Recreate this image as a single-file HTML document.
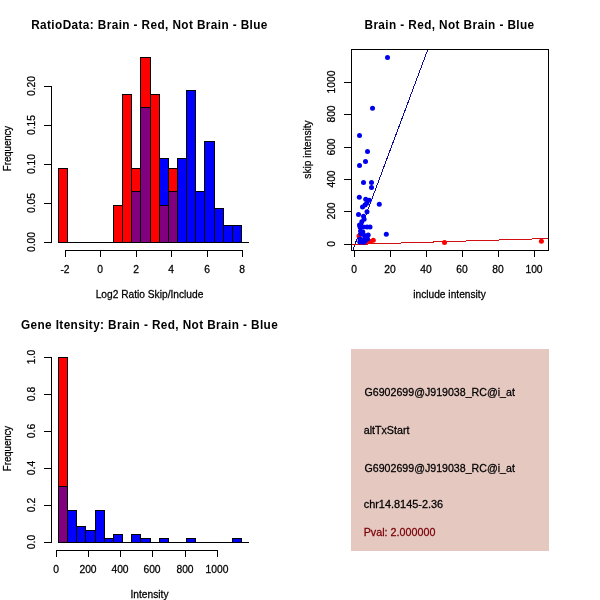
<!DOCTYPE html>
<html><head><meta charset="utf-8"><style>
html,body{margin:0;padding:0;background:#fff;width:600px;height:600px;overflow:hidden}
svg{display:block;will-change:transform}
text{font-family:"Liberation Sans", sans-serif}
</style></head><body>
<svg width="600" height="600" viewBox="0 0 600 600">
<rect x="0" y="0" width="600" height="600" fill="#fff"/>
<text x="0" y="0" transform="translate(149.5,28.5) scale(1.0,1.07)" font-size="11.8" text-anchor="middle" font-weight="bold" fill="#000" letter-spacing="0.4">RatioData: Brain - Red, Not Brain - Blue</text>
<rect x="51" y="86" width="1" height="157" fill="#000"/>
<rect x="44" y="86" width="8" height="1" fill="#000"/>
<rect x="44" y="125" width="8" height="1" fill="#000"/>
<rect x="44" y="164" width="8" height="1" fill="#000"/>
<rect x="44" y="203" width="8" height="1" fill="#000"/>
<rect x="44" y="242" width="8" height="1" fill="#000"/>
<text x="0" y="0" transform="translate(35,242) rotate(-90) scale(1.0,1.06)" font-size="10.3" text-anchor="middle" font-weight="normal" fill="#000" stroke="#000" stroke-width="0.25">0.00</text>
<text x="0" y="0" transform="translate(35,203) rotate(-90) scale(1.0,1.06)" font-size="10.3" text-anchor="middle" font-weight="normal" fill="#000" stroke="#000" stroke-width="0.25">0.05</text>
<text x="0" y="0" transform="translate(35,164) rotate(-90) scale(1.0,1.06)" font-size="10.3" text-anchor="middle" font-weight="normal" fill="#000" stroke="#000" stroke-width="0.25">0.10</text>
<text x="0" y="0" transform="translate(35,125) rotate(-90) scale(1.0,1.06)" font-size="10.3" text-anchor="middle" font-weight="normal" fill="#000" stroke="#000" stroke-width="0.25">0.15</text>
<text x="0" y="0" transform="translate(35,86) rotate(-90) scale(1.0,1.06)" font-size="10.3" text-anchor="middle" font-weight="normal" fill="#000" stroke="#000" stroke-width="0.25">0.20</text>
<text x="0" y="0" transform="translate(10.5,148.5) rotate(-90) scale(1.0,1.06)" font-size="9.6" text-anchor="middle" font-weight="normal" fill="#000" stroke="#000" stroke-width="0.25">Frequency</text>
<rect x="65" y="250" width="178" height="1" fill="#000"/>
<rect x="65" y="250" width="1" height="7" fill="#000"/>
<rect x="100" y="250" width="1" height="7" fill="#000"/>
<rect x="136" y="250" width="1" height="7" fill="#000"/>
<rect x="171" y="250" width="1" height="7" fill="#000"/>
<rect x="207" y="250" width="1" height="7" fill="#000"/>
<rect x="242" y="250" width="1" height="7" fill="#000"/>
<text x="0" y="0" transform="translate(65,273) scale(1.0,1.06)" font-size="10.3" text-anchor="middle" font-weight="normal" fill="#000" stroke="#000" stroke-width="0.25">-2</text>
<text x="0" y="0" transform="translate(100,273) scale(1.0,1.06)" font-size="10.3" text-anchor="middle" font-weight="normal" fill="#000" stroke="#000" stroke-width="0.25">0</text>
<text x="0" y="0" transform="translate(136,273) scale(1.0,1.06)" font-size="10.3" text-anchor="middle" font-weight="normal" fill="#000" stroke="#000" stroke-width="0.25">2</text>
<text x="0" y="0" transform="translate(171,273) scale(1.0,1.06)" font-size="10.3" text-anchor="middle" font-weight="normal" fill="#000" stroke="#000" stroke-width="0.25">4</text>
<text x="0" y="0" transform="translate(207,273) scale(1.0,1.06)" font-size="10.3" text-anchor="middle" font-weight="normal" fill="#000" stroke="#000" stroke-width="0.25">6</text>
<text x="0" y="0" transform="translate(242,273) scale(1.0,1.06)" font-size="10.3" text-anchor="middle" font-weight="normal" fill="#000" stroke="#000" stroke-width="0.25">8</text>
<text x="0" y="0" transform="translate(149.5,297.5) scale(1.0,1.06)" font-size="10.2" text-anchor="middle" font-weight="normal" fill="#000" stroke="#000" stroke-width="0.25">Log2 Ratio Skip/Include</text>
<rect x="58" y="242" width="191" height="1" fill="#000"/>
<rect x="58" y="168" width="10" height="75" fill="#000"/>
<rect x="59" y="169" width="8" height="73" fill="#ff0000"/>
<rect x="113" y="205" width="10" height="38" fill="#000"/>
<rect x="114" y="206" width="8" height="36" fill="#ff0000"/>
<rect x="122" y="94" width="10" height="149" fill="#000"/>
<rect x="123" y="95" width="8" height="147" fill="#ff0000"/>
<rect x="131" y="168" width="10" height="75" fill="#000"/>
<rect x="132" y="169" width="8" height="73" fill="#ff0000"/>
<rect x="140" y="57" width="11" height="186" fill="#000"/>
<rect x="141" y="58" width="9" height="184" fill="#ff0000"/>
<rect x="150" y="94" width="10" height="149" fill="#000"/>
<rect x="151" y="95" width="8" height="147" fill="#ff0000"/>
<rect x="159" y="205" width="10" height="38" fill="#000"/>
<rect x="160" y="206" width="8" height="36" fill="#ff0000"/>
<rect x="168" y="168" width="10" height="75" fill="#000"/>
<rect x="169" y="169" width="8" height="73" fill="#ff0000"/>
<rect x="131" y="191" width="10" height="52" fill="#000"/>
<rect x="132" y="192" width="8" height="50" fill="#0000ff"/>
<rect x="140" y="107" width="11" height="136" fill="#000"/>
<rect x="141" y="108" width="9" height="134" fill="#0000ff"/>
<rect x="159" y="158" width="10" height="85" fill="#000"/>
<rect x="160" y="159" width="8" height="83" fill="#0000ff"/>
<rect x="168" y="191" width="10" height="52" fill="#000"/>
<rect x="169" y="192" width="8" height="50" fill="#0000ff"/>
<rect x="177" y="158" width="10" height="85" fill="#000"/>
<rect x="178" y="159" width="8" height="83" fill="#0000ff"/>
<rect x="186" y="90" width="10" height="153" fill="#000"/>
<rect x="187" y="91" width="8" height="151" fill="#0000ff"/>
<rect x="195" y="191" width="10" height="52" fill="#000"/>
<rect x="196" y="192" width="8" height="50" fill="#0000ff"/>
<rect x="204" y="141" width="11" height="102" fill="#000"/>
<rect x="205" y="142" width="9" height="100" fill="#0000ff"/>
<rect x="214" y="208" width="10" height="35" fill="#000"/>
<rect x="215" y="209" width="8" height="33" fill="#0000ff"/>
<rect x="223" y="225" width="10" height="18" fill="#000"/>
<rect x="224" y="226" width="8" height="16" fill="#0000ff"/>
<rect x="232" y="225" width="10" height="18" fill="#000"/>
<rect x="233" y="226" width="8" height="16" fill="#0000ff"/>
<rect x="131" y="191" width="10" height="52" fill="#000"/>
<rect x="132" y="192" width="8" height="50" fill="#800080"/>
<rect x="140" y="107" width="11" height="136" fill="#000"/>
<rect x="141" y="108" width="9" height="134" fill="#800080"/>
<rect x="159" y="205" width="10" height="38" fill="#000"/>
<rect x="160" y="206" width="8" height="36" fill="#800080"/>
<rect x="168" y="191" width="10" height="52" fill="#000"/>
<rect x="169" y="192" width="8" height="50" fill="#800080"/>
<text x="0" y="0" transform="translate(449.5,28.5) scale(1.0,1.07)" font-size="11.8" text-anchor="middle" font-weight="bold" fill="#000" letter-spacing="0.4">Brain - Red, Not Brain - Blue</text>
<rect x="344" y="244" width="8" height="1" fill="#000"/>
<rect x="344" y="211" width="8" height="1" fill="#000"/>
<rect x="344" y="179" width="8" height="1" fill="#000"/>
<rect x="344" y="147" width="8" height="1" fill="#000"/>
<rect x="344" y="114" width="8" height="1" fill="#000"/>
<rect x="344" y="82" width="8" height="1" fill="#000"/>
<text x="0" y="0" transform="translate(335,244) rotate(-90) scale(1.0,1.06)" font-size="10.3" text-anchor="middle" font-weight="normal" fill="#000" stroke="#000" stroke-width="0.25">0</text>
<text x="0" y="0" transform="translate(335,211) rotate(-90) scale(1.0,1.06)" font-size="10.3" text-anchor="middle" font-weight="normal" fill="#000" stroke="#000" stroke-width="0.25">200</text>
<text x="0" y="0" transform="translate(335,179) rotate(-90) scale(1.0,1.06)" font-size="10.3" text-anchor="middle" font-weight="normal" fill="#000" stroke="#000" stroke-width="0.25">400</text>
<text x="0" y="0" transform="translate(335,147) rotate(-90) scale(1.0,1.06)" font-size="10.3" text-anchor="middle" font-weight="normal" fill="#000" stroke="#000" stroke-width="0.25">600</text>
<text x="0" y="0" transform="translate(335,114) rotate(-90) scale(1.0,1.06)" font-size="10.3" text-anchor="middle" font-weight="normal" fill="#000" stroke="#000" stroke-width="0.25">800</text>
<text x="0" y="0" transform="translate(335,82) rotate(-90) scale(1.0,1.06)" font-size="10.3" text-anchor="middle" font-weight="normal" fill="#000" stroke="#000" stroke-width="0.25">1000</text>
<text x="0" y="0" transform="translate(310.5,149.5) rotate(-90) scale(1.0,1.06)" font-size="10.2" text-anchor="middle" font-weight="normal" fill="#000" stroke="#000" stroke-width="0.25">skip intensity</text>
<rect x="354" y="250" width="1" height="7" fill="#000"/>
<rect x="390" y="250" width="1" height="7" fill="#000"/>
<rect x="426" y="250" width="1" height="7" fill="#000"/>
<rect x="462" y="250" width="1" height="7" fill="#000"/>
<rect x="498" y="250" width="1" height="7" fill="#000"/>
<rect x="534" y="250" width="1" height="7" fill="#000"/>
<text x="0" y="0" transform="translate(354,273) scale(1.0,1.06)" font-size="10.3" text-anchor="middle" font-weight="normal" fill="#000" stroke="#000" stroke-width="0.25">0</text>
<text x="0" y="0" transform="translate(390,273) scale(1.0,1.06)" font-size="10.3" text-anchor="middle" font-weight="normal" fill="#000" stroke="#000" stroke-width="0.25">20</text>
<text x="0" y="0" transform="translate(426,273) scale(1.0,1.06)" font-size="10.3" text-anchor="middle" font-weight="normal" fill="#000" stroke="#000" stroke-width="0.25">40</text>
<text x="0" y="0" transform="translate(462,273) scale(1.0,1.06)" font-size="10.3" text-anchor="middle" font-weight="normal" fill="#000" stroke="#000" stroke-width="0.25">60</text>
<text x="0" y="0" transform="translate(498,273) scale(1.0,1.06)" font-size="10.3" text-anchor="middle" font-weight="normal" fill="#000" stroke="#000" stroke-width="0.25">80</text>
<text x="0" y="0" transform="translate(534,273) scale(1.0,1.06)" font-size="10.3" text-anchor="middle" font-weight="normal" fill="#000" stroke="#000" stroke-width="0.25">100</text>
<text x="0" y="0" transform="translate(449.5,297.5) scale(1.0,1.06)" font-size="10.2" text-anchor="middle" font-weight="normal" fill="#000" stroke="#000" stroke-width="0.25">include intensity</text>
<defs><clipPath id="c2"><rect x="351" y="49" width="198" height="202"/></clipPath></defs>
<g clip-path="url(#c2)">
<line x1="427.8" y1="49.5" x2="353" y2="249.5" stroke="#0c0a98" stroke-width="1" shape-rendering="crispEdges"/>
<line x1="340" y1="244.86259541984734" x2="560" y2="238.14503816793894" stroke="#d01010" stroke-width="1" shape-rendering="crispEdges"/>
<circle cx="359" cy="236" r="2.5" fill="#ff0000"/>
<circle cx="373.3" cy="240.2" r="2.5" fill="#ff0000"/>
<circle cx="367" cy="241.5" r="2.5" fill="#ff0000"/>
<circle cx="370.5" cy="241.5" r="2.5" fill="#ff0000"/>
<circle cx="444.5" cy="242.5" r="2.5" fill="#ff0000"/>
<circle cx="541.4" cy="241.3" r="2.5" fill="#ff0000"/>
<circle cx="387.5" cy="57.5" r="2.5" fill="#0000f0"/>
<circle cx="372.5" cy="108.3" r="2.5" fill="#0000f0"/>
<circle cx="359.5" cy="135.5" r="2.5" fill="#0000f0"/>
<circle cx="367.5" cy="151.5" r="2.5" fill="#0000f0"/>
<circle cx="365.5" cy="161.5" r="2.5" fill="#0000f0"/>
<circle cx="359.5" cy="165.5" r="2.5" fill="#0000f0"/>
<circle cx="363.5" cy="182.5" r="2.5" fill="#0000f0"/>
<circle cx="371.5" cy="182.5" r="2.5" fill="#0000f0"/>
<circle cx="371.5" cy="187.5" r="2.5" fill="#0000f0"/>
<circle cx="359.3" cy="197.3" r="2.5" fill="#0000f0"/>
<circle cx="365.7" cy="199.3" r="2.5" fill="#0000f0"/>
<circle cx="369.3" cy="200.3" r="2.5" fill="#0000f0"/>
<circle cx="366.7" cy="203.3" r="2.5" fill="#0000f0"/>
<circle cx="379.3" cy="204.3" r="2.5" fill="#0000f0"/>
<circle cx="362.5" cy="207" r="2.5" fill="#0000f0"/>
<circle cx="365" cy="205" r="2.5" fill="#0000f0"/>
<circle cx="367" cy="211.8" r="2.5" fill="#0000f0"/>
<circle cx="358.5" cy="214.4" r="2.5" fill="#0000f0"/>
<circle cx="363.5" cy="216.3" r="2.5" fill="#0000f0"/>
<circle cx="364.1" cy="219.2" r="2.5" fill="#0000f0"/>
<circle cx="361.8" cy="221.7" r="2.5" fill="#0000f0"/>
<circle cx="359.5" cy="225" r="2.5" fill="#0000f0"/>
<circle cx="360" cy="227" r="2.5" fill="#0000f0"/>
<circle cx="363.5" cy="227" r="2.5" fill="#0000f0"/>
<circle cx="367" cy="227" r="2.5" fill="#0000f0"/>
<circle cx="370" cy="227" r="2.5" fill="#0000f0"/>
<circle cx="360.5" cy="231" r="2.5" fill="#0000f0"/>
<circle cx="361" cy="234" r="2.5" fill="#0000f0"/>
<circle cx="364.5" cy="235.5" r="2.5" fill="#0000f0"/>
<circle cx="368.2" cy="235" r="2.5" fill="#0000f0"/>
<circle cx="360" cy="239" r="2.5" fill="#0000f0"/>
<circle cx="364" cy="239.5" r="2.5" fill="#0000f0"/>
<circle cx="367.5" cy="239" r="2.5" fill="#0000f0"/>
<circle cx="361" cy="241.3" r="2.5" fill="#0000f0"/>
<circle cx="365" cy="241.3" r="2.5" fill="#0000f0"/>
<circle cx="359.8" cy="242" r="2.5" fill="#0000f0"/>
<circle cx="363.5" cy="242.2" r="2.5" fill="#0000f0"/>
<circle cx="362.8" cy="232" r="2.5" fill="#0000f0"/>
<circle cx="386.3" cy="234.3" r="2.5" fill="#0000f0"/>
</g>
<rect x="351" y="49" width="198" height="1" fill="#000"/>
<rect x="351" y="250" width="198" height="1" fill="#000"/>
<rect x="351" y="49" width="1" height="202" fill="#000"/>
<rect x="548" y="49" width="1" height="202" fill="#000"/>
<text x="0" y="0" transform="translate(149.5,328.5) scale(1.0,1.07)" font-size="11.8" text-anchor="middle" font-weight="bold" fill="#000" letter-spacing="0.4">Gene Itensity: Brain - Red, Not Brain - Blue</text>
<rect x="51" y="357" width="1" height="186" fill="#000"/>
<rect x="44" y="542" width="8" height="1" fill="#000"/>
<rect x="44" y="505" width="8" height="1" fill="#000"/>
<rect x="44" y="468" width="8" height="1" fill="#000"/>
<rect x="44" y="431" width="8" height="1" fill="#000"/>
<rect x="44" y="394" width="8" height="1" fill="#000"/>
<rect x="44" y="357" width="8" height="1" fill="#000"/>
<text x="0" y="0" transform="translate(35,542) rotate(-90) scale(1.0,1.06)" font-size="10.3" text-anchor="middle" font-weight="normal" fill="#000" stroke="#000" stroke-width="0.25">0.0</text>
<text x="0" y="0" transform="translate(35,505) rotate(-90) scale(1.0,1.06)" font-size="10.3" text-anchor="middle" font-weight="normal" fill="#000" stroke="#000" stroke-width="0.25">0.2</text>
<text x="0" y="0" transform="translate(35,468) rotate(-90) scale(1.0,1.06)" font-size="10.3" text-anchor="middle" font-weight="normal" fill="#000" stroke="#000" stroke-width="0.25">0.4</text>
<text x="0" y="0" transform="translate(35,431) rotate(-90) scale(1.0,1.06)" font-size="10.3" text-anchor="middle" font-weight="normal" fill="#000" stroke="#000" stroke-width="0.25">0.6</text>
<text x="0" y="0" transform="translate(35,394) rotate(-90) scale(1.0,1.06)" font-size="10.3" text-anchor="middle" font-weight="normal" fill="#000" stroke="#000" stroke-width="0.25">0.8</text>
<text x="0" y="0" transform="translate(35,357) rotate(-90) scale(1.0,1.06)" font-size="10.3" text-anchor="middle" font-weight="normal" fill="#000" stroke="#000" stroke-width="0.25">1.0</text>
<text x="0" y="0" transform="translate(10.5,448.5) rotate(-90) scale(1.0,1.06)" font-size="9.6" text-anchor="middle" font-weight="normal" fill="#000" stroke="#000" stroke-width="0.25">Frequency</text>
<rect x="56" y="550" width="162" height="1" fill="#000"/>
<rect x="56" y="550" width="1" height="7" fill="#000"/>
<rect x="88" y="550" width="1" height="7" fill="#000"/>
<rect x="120" y="550" width="1" height="7" fill="#000"/>
<rect x="152" y="550" width="1" height="7" fill="#000"/>
<rect x="185" y="550" width="1" height="7" fill="#000"/>
<rect x="217" y="550" width="1" height="7" fill="#000"/>
<text x="0" y="0" transform="translate(56,573) scale(1.0,1.06)" font-size="10.3" text-anchor="middle" font-weight="normal" fill="#000" stroke="#000" stroke-width="0.25">0</text>
<text x="0" y="0" transform="translate(88,573) scale(1.0,1.06)" font-size="10.3" text-anchor="middle" font-weight="normal" fill="#000" stroke="#000" stroke-width="0.25">200</text>
<text x="0" y="0" transform="translate(120,573) scale(1.0,1.06)" font-size="10.3" text-anchor="middle" font-weight="normal" fill="#000" stroke="#000" stroke-width="0.25">400</text>
<text x="0" y="0" transform="translate(152,573) scale(1.0,1.06)" font-size="10.3" text-anchor="middle" font-weight="normal" fill="#000" stroke="#000" stroke-width="0.25">600</text>
<text x="0" y="0" transform="translate(185,573) scale(1.0,1.06)" font-size="10.3" text-anchor="middle" font-weight="normal" fill="#000" stroke="#000" stroke-width="0.25">800</text>
<text x="0" y="0" transform="translate(217,573) scale(1.0,1.06)" font-size="10.3" text-anchor="middle" font-weight="normal" fill="#000" stroke="#000" stroke-width="0.25">1000</text>
<text x="0" y="0" transform="translate(149.5,597.5) scale(1.0,1.06)" font-size="10.2" text-anchor="middle" font-weight="normal" fill="#000" stroke="#000" stroke-width="0.25">Intensity</text>
<rect x="58" y="542" width="191" height="1" fill="#000"/>
<rect x="58" y="357" width="10" height="186" fill="#000"/>
<rect x="59" y="358" width="8" height="184" fill="#ff0000"/>
<rect x="58" y="486" width="10" height="57" fill="#000"/>
<rect x="59" y="487" width="8" height="55" fill="#0000ff"/>
<rect x="67" y="510" width="10" height="33" fill="#000"/>
<rect x="68" y="511" width="8" height="31" fill="#0000ff"/>
<rect x="76" y="526" width="10" height="17" fill="#000"/>
<rect x="77" y="527" width="8" height="15" fill="#0000ff"/>
<rect x="85" y="530" width="11" height="13" fill="#000"/>
<rect x="86" y="531" width="9" height="11" fill="#0000ff"/>
<rect x="95" y="510" width="10" height="33" fill="#000"/>
<rect x="96" y="511" width="8" height="31" fill="#0000ff"/>
<rect x="104" y="538" width="10" height="5" fill="#000"/>
<rect x="105" y="539" width="8" height="3" fill="#0000ff"/>
<rect x="113" y="534" width="10" height="9" fill="#000"/>
<rect x="114" y="535" width="8" height="7" fill="#0000ff"/>
<rect x="131" y="534" width="10" height="9" fill="#000"/>
<rect x="132" y="535" width="8" height="7" fill="#0000ff"/>
<rect x="140" y="538" width="11" height="5" fill="#000"/>
<rect x="141" y="539" width="9" height="3" fill="#0000ff"/>
<rect x="159" y="538" width="10" height="5" fill="#000"/>
<rect x="160" y="539" width="8" height="3" fill="#0000ff"/>
<rect x="186" y="538" width="10" height="5" fill="#000"/>
<rect x="187" y="539" width="8" height="3" fill="#0000ff"/>
<rect x="232" y="538" width="10" height="5" fill="#000"/>
<rect x="233" y="539" width="8" height="3" fill="#0000ff"/>
<rect x="58" y="486" width="10" height="57" fill="#000"/>
<rect x="59" y="487" width="8" height="55" fill="#800080"/>
<rect x="351" y="349" width="198" height="202" fill="#e5c8c0"/>
<text x="0" y="0" transform="translate(364.5,395.5) scale(1.013,1.06)" font-size="10.5" text-anchor="start" font-weight="normal" fill="#000" stroke="#000" stroke-width="0.25">G6902699@J919038_RC@i_at</text>
<text x="0" y="0" transform="translate(363.7,434) scale(1.02,1.06)" font-size="10.5" text-anchor="start" font-weight="normal" fill="#000" stroke="#000" stroke-width="0.25">altTxStart</text>
<text x="0" y="0" transform="translate(364.5,471.5) scale(1.013,1.06)" font-size="10.5" text-anchor="start" font-weight="normal" fill="#000" stroke="#000" stroke-width="0.25">G6902699@J919038_RC@i_at</text>
<text x="0" y="0" transform="translate(363.7,508) scale(1.04,1.06)" font-size="10.5" text-anchor="start" font-weight="normal" fill="#000" stroke="#000" stroke-width="0.25">chr14.8145-2.36</text>
<text x="0" y="0" transform="translate(363.7,536) scale(1.025,1.06)" font-size="10.5" text-anchor="start" font-weight="normal" fill="#7a0008" stroke="#7a0008" stroke-width="0.25">Pval: 2.000000</text>
</svg>
</body></html>
